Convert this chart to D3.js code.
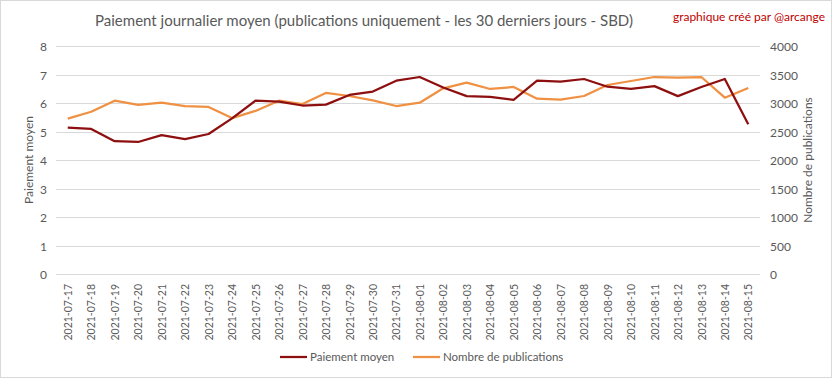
<!DOCTYPE html>
<html><head><meta charset="utf-8">
<script src="https://cdn.jsdelivr.net/npm/d3@7"></script>
<style>body{margin:0;background:#fff}svg{display:block}text{font-family:Lato,"Open Sans",sans-serif}</style>
</head><body><svg id="c" width="833" height="379"></svg>
<script>
const dates = ["2021-07-17","2021-07-18","2021-07-19","2021-07-20","2021-07-21","2021-07-22","2021-07-23","2021-07-24","2021-07-25","2021-07-26","2021-07-27","2021-07-28","2021-07-29","2021-07-30","2021-07-31","2021-08-01","2021-08-02","2021-08-03","2021-08-04","2021-08-05","2021-08-06","2021-08-07","2021-08-08","2021-08-09","2021-08-10","2021-08-11","2021-08-12","2021-08-13","2021-08-14","2021-08-15"];
const paiementMoyen = [5.16,5.12,4.69,4.66,4.90,4.76,4.94,5.49,6.11,6.08,5.94,5.97,6.31,6.43,6.81,6.94,6.57,6.27,6.24,6.14,6.81,6.78,6.87,6.60,6.52,6.62,6.27,6.59,6.87,5.28];
const nombrePublications = [2740,2860,3055,2980,3020,2960,2945,2750,2875,3055,2995,3190,3137,3061,2961,3019,3272,3370,3260,3295,3090,3072,3137,3330,3400,3470,3458,3470,3107,3277];
const leftTicks = [0,1,2,3,4,5,6,7,8];
const rightTicks = [0,500,1000,1500,2000,2500,3000,3500,4000];
const title = "Paiement journalier moyen (publications uniquement  - les 30 derniers jours - SBD)";
const credit = "graphique créé par @arcange";
const seriesNames = ["Paiement moyen","Nombre de publications"];
const colors = ["#8e0f0f","#ef9043"];

const svg = d3.select("#c");
const gray = "#595959";
svg.append("rect").attr("x",0.5).attr("y",0.5).attr("width",831).attr("height",377).attr("fill","#fff").attr("stroke","#d9d9d9");

const x = d3.scalePoint().domain(dates).range([56,760]).padding(0.5);
const yL = d3.scaleLinear().domain([0,8]).range([274.8,46.8]);
const yR = d3.scaleLinear().domain([0,4000]).range([274.8,46.8]);

// gridlines
svg.append("g").selectAll("line").data(leftTicks).join("line")
  .attr("x1",56).attr("x2",760).attr("y1",d=>yL(d)).attr("y2",d=>yL(d))
  .attr("stroke","#d9d9d9").attr("stroke-width",1).attr("shape-rendering","crispEdges");

// left axis
const gl = svg.append("g").attr("transform","translate(47,0)")
  .call(d3.axisLeft(yL).tickValues(leftTicks).tickSize(0).tickPadding(0));
gl.select(".domain").remove();
gl.selectAll("text").attr("fill",gray).style("font-size","12px").style("font-family","Lato");

// right axis
const gr = svg.append("g").attr("transform","translate(770,0)")
  .call(d3.axisRight(yR).tickValues(rightTicks).tickFormat(d3.format("d")).tickSize(0).tickPadding(0));
gr.select(".domain").remove();
gr.selectAll("text").attr("fill",gray).style("font-size","12px").style("font-family","Lato");

// x axis labels
const gx = svg.append("g").attr("transform","translate(0,284)")
  .call(d3.axisBottom(x).tickSize(0).tickPadding(0));
gx.select(".domain").remove();
gx.selectAll("text").attr("fill",gray).style("font-size","10.5px").style("font-family","Lato")
  .attr("text-anchor","end").attr("dy","0.35em").attr("y",0)
  .attr("transform","rotate(-90)");

// lines
const lineL = d3.line().x((d,i)=>x(dates[i])).y(d=>yL(d));
const lineR = d3.line().x((d,i)=>x(dates[i])).y(d=>yR(d));
svg.append("path").datum(nombrePublications).attr("d",lineR).attr("fill","none")
  .attr("stroke",colors[1]).attr("stroke-width",2.25).attr("stroke-linejoin","round");
svg.append("path").datum(paiementMoyen).attr("d",lineL).attr("fill","none")
  .attr("stroke",colors[0]).attr("stroke-width",2.25).attr("stroke-linejoin","round");

// titles
svg.append("text").attr("x",364).attr("y",26).attr("text-anchor","middle")
  .attr("fill",gray).style("font-size","15px").text(title);
svg.append("text").attr("x",825).attr("y",21).attr("text-anchor","end")
  .attr("fill","#c00000").style("font-size","12px").text(credit);
svg.append("text").attr("transform","translate(33,160) rotate(-90)").attr("text-anchor","middle")
  .attr("fill",gray).style("font-size","12px").text(seriesNames[0]);
svg.append("text").attr("transform","translate(812,160) rotate(-90)").attr("text-anchor","middle")
  .attr("fill",gray).style("font-size","12px").text(seriesNames[1]);

// legend
const leg = [{x:280,name:seriesNames[0],c:colors[0]},{x:413,name:seriesNames[1],c:colors[1]}];
const lg = svg.append("g").selectAll("g").data(leg).join("g").attr("transform",d=>`translate(${d.x},357)`);
lg.append("line").attr("x1",0).attr("x2",27).attr("stroke",d=>d.c).attr("stroke-width",2.25);
lg.append("text").attr("x",30).attr("dy","0.35em").attr("fill",gray).style("font-size","11.5px").text(d=>d.name);
</script></body></html>
